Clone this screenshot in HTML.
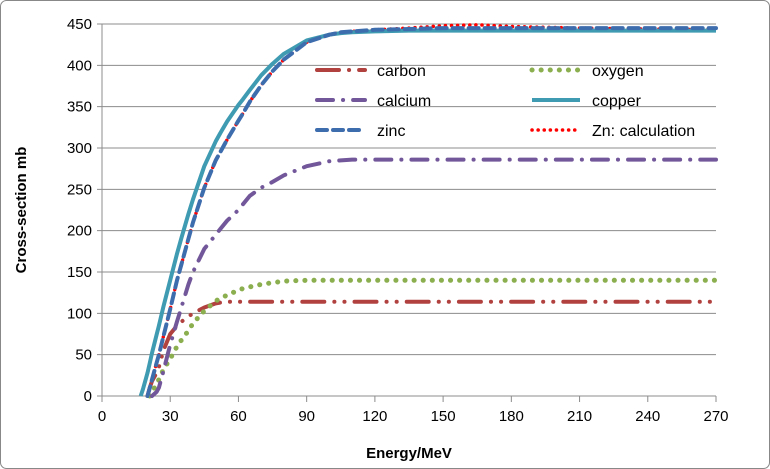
<!DOCTYPE html>
<html><head><meta charset="utf-8"><style>
body{margin:0;background:#fff;font-family:"Liberation Sans",sans-serif}
svg{display:block}
text{font-family:"Liberation Sans",sans-serif;fill:#000}
</style></head><body>
<svg id="c" width="770" height="469">
<rect x="0.5" y="0.5" width="769" height="468" rx="6" fill="#fff" stroke="#888"/>
</svg>
<script>
const xTicks=[0,30,60,90,120,150,180,210,240,270];
const yTicks=[0,50,100,150,200,250,300,350,400,450];
const energies=[17,18,20,21,22,24,25,27,30,33,35,38,40,45,50,52,55,60,62,65,70,75,80,90,100,105,110,120,135,150,165,180,210,240,270];
const carbon=[null,null,0,10,18,28,35,55,75,85,90,96,100,107,112,113,114,114,114,114,114,114,114,114,114,114,114,114,114,114,114,114,114,114,114];
const oxygen=[null,null,null,0,5,14,20,32,45,60,68,79,88,103,115,118,122,128,130,132,135,137,139,140,140,140,140,140,140,140,140,140,140,140,140];
const calcium=[null,null,null,null,0,5,10,30,62,90,108,135,150,178,195,202,212,225,232,242,252,259,267,278,284,285,286,286,286,286,286,286,286,286,286];
const copper=[0,8,28,40,52,74,85,108,140,172,192,220,238,278,308,318,332,352,359,370,388,402,414,430,437,439,440,441,442,442,442,442,442,442,442];
const zinc=[null,null,0,10,20,40,50,72,105,140,160,190,210,252,285,295,310,333,342,356,376,393,407,428,437,440,441,443,444,445,445,445,445,445,445];
const zncalc=[null,null,0,10,20,40,50,72,105,140,160,190,210,252,285,295,310,333,342,356,376,393,407,428,437,440,441,443,445,448,449,447,445,444,443];
const X0=102,X1=716,Y0=396,Y1=24;
const xs=v=>X0+(v-0)/270*(X1-X0);
const ys=v=>Y0-(v-0)/450*(Y0-Y1);
const svg=document.getElementById('c');
const NS='http://www.w3.org/2000/svg';
function mk(t,a,p){const e=document.createElementNS(NS,t);for(const k in a)e.setAttribute(k,a[k]);(p||svg).appendChild(e);return e;}
yTicks.forEach(v=>{
 const g=mk('line',{x1:X0-5,x2:X1,y1:ys(v),y2:ys(v),stroke:'#8c8c8c','stroke-width':1});
 
 
 const t=mk('text',{x:X0-10,y:ys(v)+5,'text-anchor':'end','font-size':15});
 t.textContent=v;
 
 
});
xTicks.forEach(v=>{
 const l=mk('line',{x1:xs(v),x2:xs(v),y1:Y0,y2:Y0+6,stroke:'#8c8c8c'});
 
 
 const t=mk('text',{x:xs(v),y:Y0+25,'text-anchor':'middle','font-size':15});
 t.textContent=v;
 
 
});
const ax=mk('line',{x1:X0,x2:X0,y1:Y1,y2:Y0,stroke:'#8c8c8c'});


const xt=mk('text',{x:409,y:458,'text-anchor':'middle','font-size':15,'font-weight':'bold'});
xt.textContent='Energy/MeV';


const yt=mk('text',{x:0,y:0,'text-anchor':'middle','font-size':15,'font-weight':'bold',transform:'translate(26,210) rotate(-90)'});
yt.textContent='Cross-section mb';


const series=[
 {n:'zncalc',d:zncalc,c:'#ff0000',w:3.5,da:'0.1 6',cap:'round'},
 {n:'carbon',d:carbon,c:'#b0413e',w:4,da:'22 10 0.1 10 0.1 10',cap:'round'},
 {n:'oxygen',d:oxygen,c:'#8bae4e',w:5,da:'0.1 9',cap:'round'},
 {n:'calcium',d:calcium,c:'#72579a',w:4,da:'16 10 0.1 10',cap:'round'},
 {n:'copper',d:copper,c:'#3e9bb2',w:4,da:'',cap:'butt'},
 {n:'zinc',d:zinc,c:'#3e6dae',w:4,da:'10 6',cap:'round'}
];
series.forEach(s=>{
 let p='';
 s.d.forEach((v,i)=>{if(v===null)return;p+=(p?'L':'M')+xs(energies[i]).toFixed(1)+','+ys(v).toFixed(1);});
 const e=mk('path',{d:p,fill:'none',stroke:s.c,'stroke-width':s.w,'stroke-dasharray':s.da,'stroke-linecap':s.cap,'stroke-linejoin':'round'});
 
 
});
const leg=[
 ['carbon','#b0413e',4,'22 10 0.1 10',315,70],
 ['oxygen','#8bae4e',5,'0.1 9',530,70],
 ['calcium','#72579a',4,'16 10 0.1 10',315,100],
 ['copper','#3e9bb2',4,'',530,100],
 ['zinc','#3e6dae',4,'10 6',315,130],
 ['Zn: calculation','#ff0000',3.5,'0.1 6',530,130]
];
leg.forEach(l=>{
 const g=mk('g',{});
 
 
 mk('line',{x1:l[4]+2,x2:l[4]+50,y1:l[5],y2:l[5],stroke:l[1],'stroke-width':l[2],'stroke-dasharray':l[3],'stroke-linecap':l[3]?'round':'butt'},g);
 const t=mk('text',{x:l[4]+62,y:l[5]+6,'font-size':16},g);
 t.textContent=l[0];
});
</script>
</body></html>
